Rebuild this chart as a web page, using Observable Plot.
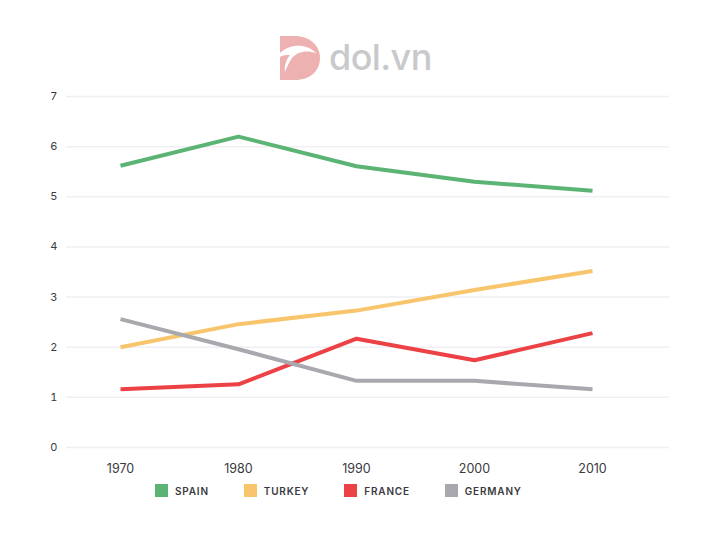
<!DOCTYPE html>
<html>
<head>
<meta charset="utf-8">
<script src="https://cdn.jsdelivr.net/npm/d3@7"></script>
<script src="https://cdn.jsdelivr.net/npm/@observablehq/plot@0.6"></script>
<style>
  html, body { margin: 0; padding: 0; background: #fff; }
  body { width: 712px; height: 534px; position: relative; overflow: hidden; font-family: Inter, "Noto Sans", sans-serif; }
  #chart { position: absolute; left: 0; top: 0; }
  #logo { position: absolute; left: 280px; top: 36px; display: flex; align-items: center; }
  #logo span { font-family: Inter, "Noto Sans", sans-serif; font-size: 36px; font-weight: 500; color: #c9c9cb; letter-spacing: -0.6px; margin-left: 9px; line-height: 44px; margin-top: -3px; }
  #legend { position: absolute; left: 155px; top: 484px; display: flex; gap: 35px; align-items: center; }
  .item { display: flex; align-items: center; gap: 7px; font-size: 10px; font-weight: 600; letter-spacing: 0.08em; color: #3a3a40; }
  .sw { width: 13px; height: 13px; display: inline-block; }
</style>
</head>
<body>
<div id="chart"></div>
<div id="logo">
  <svg width="40" height="44" viewBox="0 0 40 44">
    <path d="M0,0 H15 C30,0 40,10 40,22 C40,35 30,44 15,44 H0 Z" fill="#eeb1b1"/>
    <path d="M0,17 C10,8 26,7 36,17 C27,14 18,15 12,22 C9,26 7,31 5,36 C4,30 6,24 10,19 C7,19 3,19 0,21 Z" fill="#fff"/>
  </svg>
  <span>dol.vn</span>
</div>
<div id="legend"></div>
<script>
const years = [1970, 1980, 1990, 2000, 2010];
const seriesNames = ["SPAIN", "TURKEY", "FRANCE", "GERMANY"];
const seriesColors = ["#5bb474", "#f8c46c", "#ec4145", "#a9a8ae"];
const spain = [5.62, 6.2, 5.61, 5.3, 5.12];
const turkey = [2.0, 2.46, 2.73, 3.14, 3.52];
const france = [1.16, 1.26, 2.17, 1.74, 2.28];
const germany = [2.56, 1.96, 1.33, 1.33, 1.16];
const yTicks = [0, 1, 2, 3, 4, 5, 6, 7];

const seriesValues = [spain, turkey, france, germany];
const data = [];
seriesNames.forEach((name, i) => {
  years.forEach((yr, j) => data.push({series: name, year: yr, value: seriesValues[i][j]}));
});

const chart = Plot.plot({
  width: 712,
  height: 480,
  marginTop: 96,
  marginBottom: 33,
  marginLeft: 66,
  marginRight: 43,
  style: {fontFamily: "Inter, 'Noto Sans', sans-serif", color: "#3a3a40", background: "transparent"},
  x: {type: "point", domain: years, padding: 0, insetLeft: 53, insetRight: 77},
  y: {domain: [0, 7]},
  color: {domain: seriesNames, range: seriesColors},
  marks: [
    Plot.ruleY(yTicks, {stroke: "#efeff4", strokeWidth: 1.5}),
    Plot.axisY({ticks: yTicks, tickSize: 0, tickPadding: 9, fontSize: 11, tickFormat: d => String(d), label: null}),
    Plot.axisX({tickSize: 0, tickPadding: 17, fontSize: 12.5, tickFormat: d => String(d), label: null}),
    Plot.line(data, {x: "year", y: "value", z: "series", stroke: "series", strokeWidth: 4, strokeLinejoin: "miter", strokeLinecap: "butt"})
  ]
});
document.getElementById("chart").appendChild(chart);

const legend = document.getElementById("legend");
seriesNames.forEach((name, i) => {
  const it = document.createElement("div");
  it.className = "item";
  const sw = document.createElement("span");
  sw.className = "sw";
  sw.style.background = seriesColors[i];
  const tx = document.createElement("span");
  tx.textContent = name;
  it.appendChild(sw);
  it.appendChild(tx);
  legend.appendChild(it);
});
</script>
</body>
</html>
